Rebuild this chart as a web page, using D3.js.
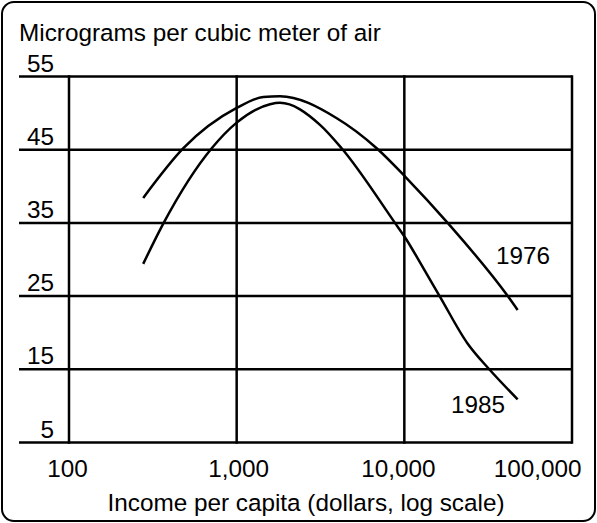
<!DOCTYPE html>
<html>
<head>
<meta charset="utf-8">
<script src="https://cdn.jsdelivr.net/npm/d3@7"></script>
<style>
  html, body { margin: 0; padding: 0; background: #fff; }
  text { font-family: "Liberation Sans", Arial, sans-serif; fill: #000; }
</style>
</head>
<body>
<svg id="chart" width="597" height="523"></svg>
<script>
// ---- data ----
const xTickValues = [100, 1000, 10000, 100000];
const xTickLabels = ["100", "1,000", "10,000", "100,000"];
const yTickValues = [55, 45, 35, 25, 15, 5];
const yTickLabels = ["55", "45", "35", "25", "15", "5"];

const income1976 = [277, 481, 1000, 1442, 1811, 3955, 6840, 10240, 18300, 41700, 47400];
const pm1976     = [38.4, 45.2, 50.7, 52.2, 52.3, 49.3, 45.2, 41.2, 34.9, 24.9, 23.1];

const income1985 = [277, 365, 710, 1000, 1581, 1811, 3141, 4227, 8790, 10240, 12400, 16330, 23700, 32400, 47400];
const pm1985     = [29.4, 34.9, 45.2, 48.7, 51.2, 51.4, 48.4, 45.2, 35.0, 32.8, 29.6, 24.9, 18.6, 14.9, 10.9];

const seriesNames = ["1976", "1985"];
const titleY = "Micrograms per cubic meter of air";
const titleX = "Income per capita (dollars, log scale)";

// ---- layout ----
const svg = d3.select("#chart");
const plotLeft = 69, plotRight = 572, plotTop = 76.5, plotBottom = 442.5, gridLeft = 19;
const fs = 24.3;

const x = d3.scaleLog().domain([100, 100000]).range([plotLeft, plotRight]);
const y = d3.scaleLinear().domain([5, 55]).range([plotBottom, plotTop]);

// outer rounded frame
svg.append("rect")
  .attr("x", 2).attr("y", 2).attr("width", 593).attr("height", 519)
  .attr("rx", 12).attr("ry", 12)
  .attr("fill", "#fff").attr("stroke", "#000").attr("stroke-width", 2);

// horizontal grid lines
svg.append("g").selectAll("line").data(yTickValues).join("line")
  .attr("x1", gridLeft).attr("x2", plotRight)
  .attr("y1", d => y(d)).attr("y2", d => y(d))
  .attr("stroke", "#000").attr("stroke-width", 2.5);

// vertical grid lines
svg.append("g").selectAll("line").data(xTickValues).join("line")
  .attr("x1", d => x(d)).attr("x2", d => x(d))
  .attr("y1", y(55) - 1.25).attr("y2", y(5) + 1.25)
  .attr("stroke", "#000").attr("stroke-width", 2.5);

// y tick labels
svg.append("g").selectAll("text").data(yTickValues).join("text")
  .attr("x", 54)
  .attr("y", d => y(d) - 5)
  .attr("text-anchor", "end")
  .attr("font-size", fs)
  .text((d, i) => yTickLabels[i]);

// x tick labels
const xNudge = [-1.5, 2, -6, 0];
svg.append("g").selectAll("text").data(xTickValues).join("text")
  .attr("x", (d, i) => i === xTickValues.length - 1 ? x(d) + 9.5 : x(d) + xNudge[i])
  .attr("y", 477)
  .attr("text-anchor", (d, i) => i === xTickValues.length - 1 ? "end" : "middle")
  .attr("font-size", fs)
  .text((d, i) => xTickLabels[i]);

// titles
svg.append("text").attr("x", 19).attr("y", 41).attr("font-size", fs).text(titleY);
svg.append("text").attr("x", 306).attr("y", 511).attr("text-anchor", "middle")
  .attr("font-size", fs).text(titleX);

// curves
const line = d3.line()
  .x(d => x(d[0])).y(d => y(d[1]))
  .curve(d3.curveMonotoneX);

const s1976 = income1976.map((v, i) => [v, pm1976[i]]);
const s1985 = income1985.map((v, i) => [v, pm1985[i]]);

svg.append("path").datum(s1976).attr("d", line)
  .attr("fill", "none").attr("stroke", "#000").attr("stroke-width", 2.5);
svg.append("path").datum(s1985).attr("d", line)
  .attr("fill", "none").attr("stroke", "#000").attr("stroke-width", 2.5);

// series labels
svg.append("text").attr("x", 496).attr("y", 264).attr("font-size", fs).text(seriesNames[0]);
svg.append("text").attr("x", 451).attr("y", 413).attr("font-size", fs).text(seriesNames[1]);
</script>
</body>
</html>
